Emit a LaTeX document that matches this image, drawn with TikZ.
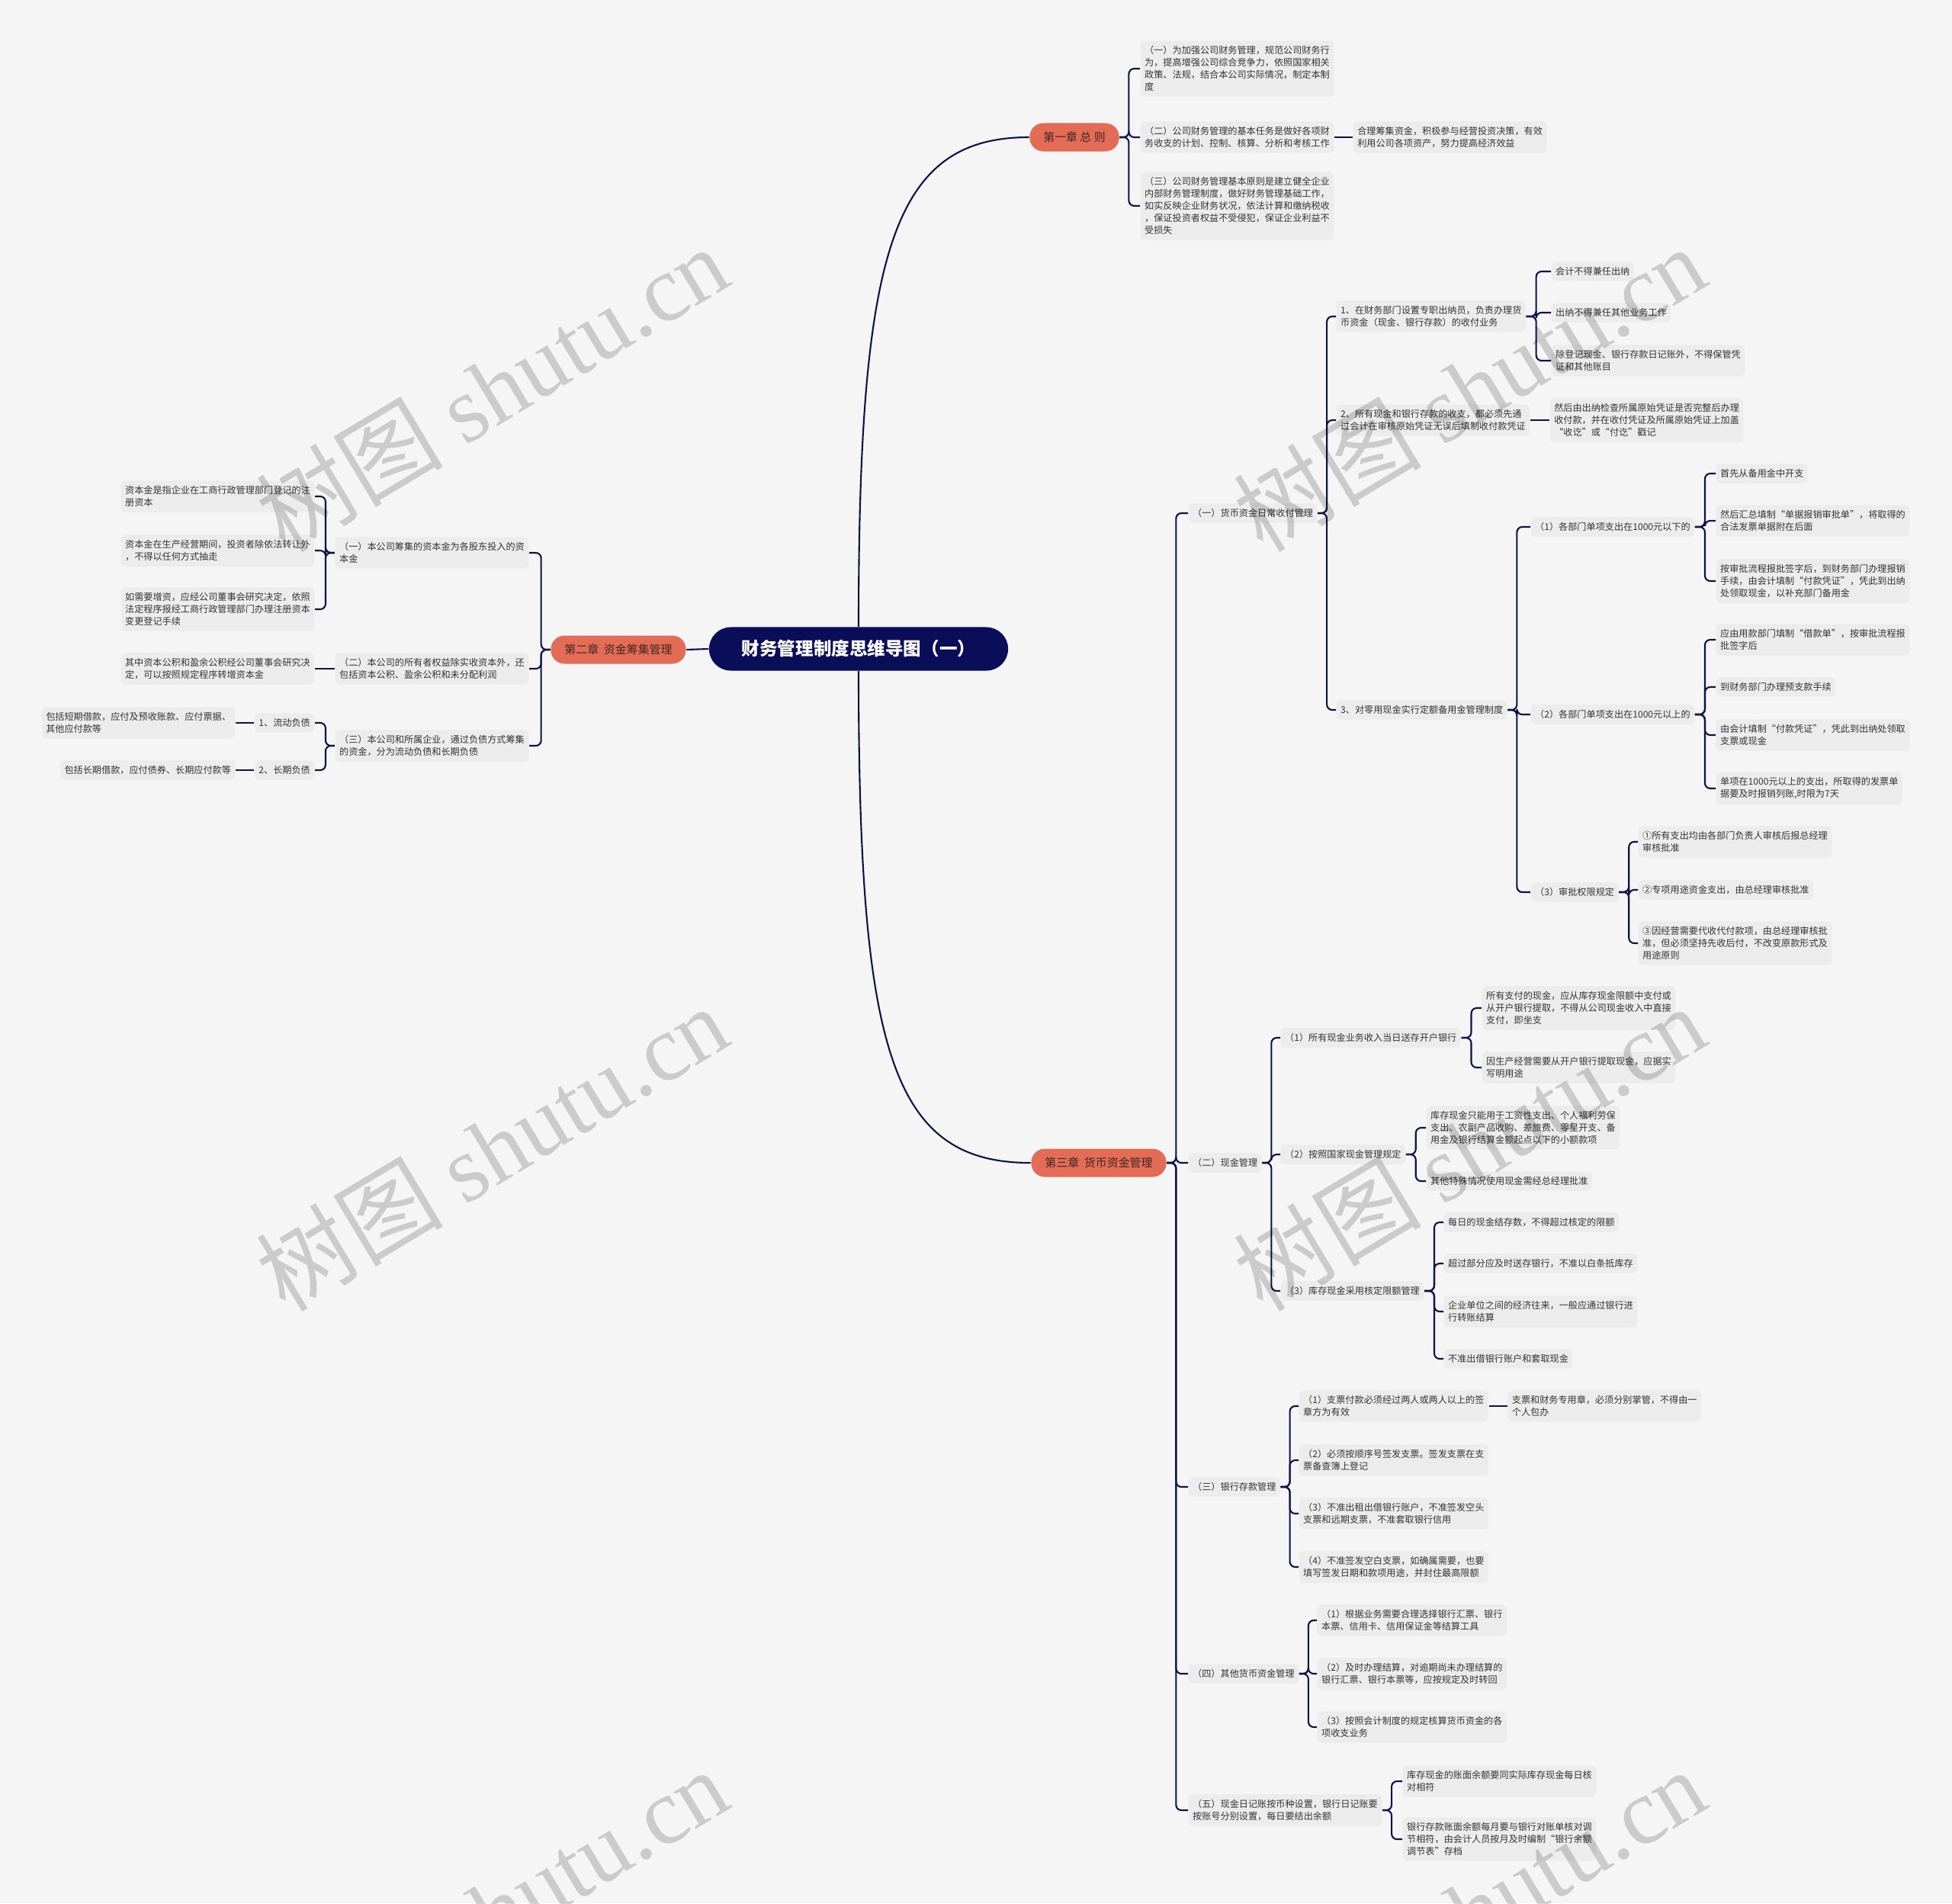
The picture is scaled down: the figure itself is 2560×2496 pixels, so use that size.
\documentclass[tikz,border=0pt]{standalone}
\usepackage{fontspec}
\setmainfont{Noto Sans CJK SC}
\newfontfamily\wmfont{Liberation Serif}
\usepackage{xcolor}
\definecolor{PaperGray}{RGB}{245,245,245}
\definecolor{LeafGray}{RGB}{236,236,236}
\definecolor{InkNavy}{RGB}{14,18,70}
\definecolor{RootNavy}{RGB}{10,13,87}
\definecolor{ChapCoral}{RGB}{226,108,86}
\definecolor{ChapText}{RGB}{66,40,34}
\definecolor{LeafText}{RGB}{51,51,51}
\usepackage{tikz}
\usetikzlibrary{positioning}

\begin{document}
\begin{tikzpicture}[
    x=0.01cm, y=-0.01cm,
    leaf/.style={fill=LeafGray, rounded corners=0.06cm, inner xsep=0.055cm, inner ysep=0.07cm, align=left, text=LeafText, font=\fontsize{3.45pt}{4.55pt}\selectfont},
    rleaf/.style={leaf, anchor=west},
    lleaf/.style={leaf, anchor=east},
    chap/.style={fill=ChapCoral, rounded corners=0.18cm, minimum height=0.37cm, inner xsep=0.18cm, inner ysep=0pt, text=ChapText, font=\fontsize{4.25pt}{5pt}\selectfont},
    root/.style={fill=RootNavy, rounded corners=0.285cm, minimum width=3.92cm, minimum height=0.57cm, text=white, font=\fontsize{6.7pt}{8pt}\selectfont\bfseries},
    link/.style={draw=InkNavy, line width=0.6pt, rounded corners=0.07cm},
    wm/.style={text=black, opacity=0.17, rotate=31, font=\fontsize{35pt}{40pt}\selectfont}
]
    \useasboundingbox (0,0) rectangle (2560,2496);
    \fill[PaperGray] (0,0) rectangle (2560,2496);

    \node[root] (root) at (1126,851) {财务管理制度思维导图（一）};
    \node[chap] (ch1) at (1409,180) {第一章 总 则};
    \node[chap] (ch2) at (811,852) {第二章~~资金筹集管理};
    \node[chap] (ch3) at (1441,1525) {第三章~~货币资金管理};

    \node[rleaf] (c1a) at (1495,90) {（一）为加强公司财务管理，规范公司财务行\\为，提高增强公司综合竞争力，依照国家相关\\政策、法规，结合本公司实际情况，制定本制\\度};
    \node[rleaf] (c1b) at (1495,180) {（二）公司财务管理的基本任务是做好各项财\\务收支的计划、控制、核算、分析和考核工作};
    \node[rleaf, right=0.24cm of c1b] (c1bx) {合理筹集资金，积极参与经营投资决策，有效\\利用公司各项资产，努力提高经济效益};
    \node[rleaf] (c1c) at (1495,270) {（三）公司财务管理基本原则是建立健全企业\\内部财务管理制度，做好财务管理基础工作，\\如实反映企业财务状况，依法计算和缴纳税收\\，保证投资者权益不受侵犯，保证企业利益不\\受损失};

    \node[lleaf] (ch2a) at (694,725) {（一）本公司筹集的资本金为各股东投入的资\\本金};
    \node[lleaf] (ch2b) at (694,877) {（二）本公司的所有者权益除实收资本外，还\\包括资本公积、盈余公积和未分配利润};
    \node[lleaf, left=0.26cm of ch2b] (ch2bx) {其中资本公积和盈余公积经公司董事会研究决\\定，可以按照规定程序转增资本金};
    \node[lleaf] (ch2c) at (694,978) {（三）本公司和所属企业，通过负债方式筹集\\的资金，分为流动负债和长期负债};
    \node[lleaf] (g1) at (413,651) {资本金是指企业在工商行政管理部门登记的注\\册资本};
    \node[lleaf] (g2) at (413,722) {资本金在生产经营期间，投资者除依法转让外\\，不得以任何方式抽走};
    \node[lleaf] (g3) at (413,799) {如需要增资，应经公司董事会研究决定，依照\\法定程序报经工商行政管理部门办理注册资本\\变更登记手续};
    \node[lleaf] (d1) at (413,948) {1、流动负债};
    \node[lleaf] (d2) at (413,1010) {2、长期负债};
    \node[lleaf, left=0.24cm of d1] (d1x) {包括短期借款，应付及预收账款、应付票据、\\其他应付款等};
    \node[lleaf, left=0.24cm of d2] (d2x) {包括长期借款，应付债券、长期应付款等};

    \node[rleaf] (s1) at (1558,673) {（一）货币资金日常收付管理};
    \node[rleaf] (s1a) at (1752,415) {1、在财务部门设置专职出纳员，负责办理货\\币资金（现金、银行存款）的收付业务};
    \node[rleaf] (s1a1) at (2034,356) {会计不得兼任出纳};
    \node[rleaf] (s1a2) at (2034,410) {出纳不得兼任其他业务工作};
    \node[rleaf] (s1a3) at (2034,473) {除登记现金、银行存款日记账外，不得保管凭\\证和其他账目};
    \node[rleaf] (s1b) at (1752,551) {2、所有现金和银行存款的收支，都必须先通\\过会计在审核原始凭证无误后填制收付款凭证};
    \node[rleaf, right=0.25cm of s1b] (s1bx) {然后由出纳检查所属原始凭证是否完整后办理\\收付款，并在收付凭证及所属原始凭证上加盖\\“收讫”或“付讫”戳记};
    \node[rleaf] (s1c) at (1752,931) {3、对零用现金实行定额备用金管理制度};
    \node[rleaf] (p1) at (2007,691) {（1）各部门单项支出在1000元以下的};
    \node[rleaf] (p1a) at (2250,621) {首先从备用金中开支};
    \node[rleaf] (p1b) at (2250,683) {然后汇总填制“单据报销审批单”，将取得的\\合法发票单据附在后面};
    \node[rleaf] (p1c) at (2250,762) {按审批流程报批签字后，到财务部门办理报销\\手续，由会计填制“付款凭证”，凭此到出纳\\处领取现金，以补充部门备用金};
    \node[rleaf] (p2) at (2007,937) {（2）各部门单项支出在1000元以上的};
    \node[rleaf] (p2a) at (2250,839) {应由用款部门填制“借款单”，按审批流程报\\批签字后};
    \node[rleaf] (p2b) at (2250,901) {到财务部门办理预支款手续};
    \node[rleaf] (p2c) at (2250,964) {由会计填制“付款凭证”，凭此到出纳处领取\\支票或现金};
    \node[rleaf] (p2d) at (2250,1034) {单项在1000元以上的支出，所取得的发票单\\据要及时报销列账,时限为7天};
    \node[rleaf] (p3) at (2007,1170) {（3）审批权限规定};
    \node[rleaf] (p3a) at (2148,1104) {①所有支出均由各部门负责人审核后报总经理\\审核批准};
    \node[rleaf] (p3b) at (2148,1167) {②专项用途资金支出，由总经理审核批准};
    \node[rleaf] (p3c) at (2148,1237) {③因经营需要代收代付款项，由总经理审核批\\准，但必须坚持先收后付，不改变原款形式及\\用途原则};

    \node[rleaf] (s2) at (1558,1525) {（二）现金管理};
    \node[rleaf] (s2a) at (1679,1361) {（1）所有现金业务收入当日送存开户银行};
    \node[rleaf] (s2a1) at (1943,1322) {所有支付的现金，应从库存现金限额中支付或\\从开户银行提取，不得从公司现金收入中直接\\支付，即坐支};
    \node[rleaf] (s2a2) at (1943,1400) {因生产经营需要从开户银行提取现金，应据实\\写明用途};
    \node[rleaf] (s2b) at (1679,1514) {（2）按照国家现金管理规定};
    \node[rleaf] (s2b1) at (1870,1479) {库存现金只能用于工资性支出、个人福利劳保\\支出、农副产品收购、差旅费、零星开支、备\\用金及银行结算金额起点以下的小额款项};
    \node[rleaf] (s2b2) at (1870,1549) {其他特殊情况使用现金需经总经理批准};
    \node[rleaf] (s2c) at (1679,1693) {（3）库存现金采用核定限额管理};
    \node[rleaf] (s2c1) at (1893,1603) {每日的现金结存数，不得超过核定的限额};
    \node[rleaf] (s2c2) at (1893,1657) {超过部分应及时送存银行，不准以白条抵库存};
    \node[rleaf] (s2c3) at (1893,1720) {企业单位之间的经济往来，一般应通过银行进\\行转账结算};
    \node[rleaf] (s2c4) at (1893,1782) {不准出借银行账户和套取现金};

    \node[rleaf] (s3) at (1558,1950) {（三）银行存款管理};
    \node[rleaf] (s3a) at (1703,1844) {（1）支票付款必须经过两人或两人以上的签\\章方为有效};
    \node[rleaf, right=0.24cm of s3a] (s3ax) {支票和财务专用章，必须分别掌管，不得由一\\个人包办};
    \node[rleaf] (s3b) at (1703,1915) {（2）必须按顺序号签发支票。签发支票在支\\票备查簿上登记};
    \node[rleaf] (s3c) at (1703,1985) {（3）不准出租出借银行账户，不准签发空头\\支票和远期支票，不准套取银行信用};
    \node[rleaf] (s3d) at (1703,2055) {（4）不准签发空白支票，如确属需要，也要\\填写签发日期和款项用途，并封住最高限额};

    \node[rleaf] (s4) at (1558,2195) {（四）其他货币资金管理};
    \node[rleaf] (s4a) at (1727,2125) {（1）根据业务需要合理选择银行汇票、银行\\本票、信用卡、信用保证金等结算工具};
    \node[rleaf] (s4b) at (1727,2195) {（2）及时办理结算，对逾期尚未办理结算的\\银行汇票、银行本票等，应按规定及时转回};
    \node[rleaf] (s4c) at (1727,2265) {（3）按照会计制度的规定核算货币资金的各\\项收支业务};

    \node[rleaf] (s5) at (1558,2374) {（五）现金日记账按币种设置，银行日记账要\\按账号分别设置，每日要结出余额};
    \node[rleaf] (s5a) at (1839,2336) {库存现金的账面余额要同实际库存现金每日核\\对相符};
    \node[rleaf] (s5b) at (1839,2412) {银行存款账面余额每月要与银行对账单核对调\\节相符，由会计人员按月及时编制“银行余额\\调节表”存档};

    \draw[link] (root.west) -- (ch2.east);
    \draw[link] (root.north) .. controls (1126,330) and (1170,180) .. (ch1.west);
    \draw[link] (root.south) .. controls (1126,1380) and (1170,1525) .. (ch3.west);

    \draw[link] (ch1.east) -- ++(12,0) |- (c1a.west);
    \draw[link] (ch1.east) -- ++(12,0) |- (c1b.west);
    \draw[link] (ch1.east) -- ++(12,0) |- (c1c.west);
    \draw[link] (c1b) -- (c1bx);

    \draw[link] (ch2.west) -- ++(-12,0) |- (ch2a.east);
    \draw[link] (ch2.west) -- ++(-12,0) |- (ch2b.east);
    \draw[link] (ch2.west) -- ++(-12,0) |- (ch2c.east);
    \draw[link] (ch2a.west) -- ++(-12,0) |- (g1.east);
    \draw[link] (ch2a.west) -- ++(-12,0) |- (g2.east);
    \draw[link] (ch2a.west) -- ++(-12,0) |- (g3.east);
    \draw[link] (ch2b) -- (ch2bx);
    \draw[link] (ch2c.west) -- ++(-12,0) |- (d1.east);
    \draw[link] (ch2c.west) -- ++(-12,0) |- (d2.east);
    \draw[link] (d1) -- (d1x);
    \draw[link] (d2) -- (d2x);

    \draw[link] (ch3.east) -- ++(12,0) |- (s1.west);
    \draw[link] (ch3.east) -- ++(12,0) |- (s2.west);
    \draw[link] (ch3.east) -- ++(12,0) |- (s3.west);
    \draw[link] (ch3.east) -- ++(12,0) |- (s4.west);
    \draw[link] (ch3.east) -- ++(12,0) |- (s5.west);

    \draw[link] (s1.east) -- ++(12,0) |- (s1a.west);
    \draw[link] (s1.east) -- ++(12,0) |- (s1b.west);
    \draw[link] (s1.east) -- ++(12,0) |- (s1c.west);
    \draw[link] (s1a.east) -- ++(13,0) |- (s1a1.west);
    \draw[link] (s1a.east) -- ++(13,0) |- (s1a2.west);
    \draw[link] (s1a.east) -- ++(13,0) |- (s1a3.west);
    \draw[link] (s1b) -- (s1bx);
    \draw[link] (s1c.east) -- ++(12,0) |- (p1.west);
    \draw[link] (s1c.east) -- ++(12,0) |- (p2.west);
    \draw[link] (s1c.east) -- ++(12,0) |- (p3.west);
    \draw[link] (p1.east) -- ++(13,0) |- (p1a.west);
    \draw[link] (p1.east) -- ++(13,0) |- (p1b.west);
    \draw[link] (p1.east) -- ++(13,0) |- (p1c.west);
    \draw[link] (p2.east) -- ++(13,0) |- (p2a.west);
    \draw[link] (p2.east) -- ++(13,0) |- (p2b.west);
    \draw[link] (p2.east) -- ++(13,0) |- (p2c.west);
    \draw[link] (p2.east) -- ++(13,0) |- (p2d.west);
    \draw[link] (p3.east) -- ++(13,0) |- (p3a.west);
    \draw[link] (p3.east) -- ++(13,0) |- (p3b.west);
    \draw[link] (p3.east) -- ++(13,0) |- (p3c.west);

    \draw[link] (s2.east) -- ++(12,0) |- (s2a.west);
    \draw[link] (s2.east) -- ++(12,0) |- (s2b.west);
    \draw[link] (s2.east) -- ++(12,0) |- (s2c.west);
    \draw[link] (s2a.east) -- ++(13,0) |- (s2a1.west);
    \draw[link] (s2a.east) -- ++(13,0) |- (s2a2.west);
    \draw[link] (s2b.east) -- ++(13,0) |- (s2b1.west);
    \draw[link] (s2b.east) -- ++(13,0) |- (s2b2.west);
    \draw[link] (s2c.east) -- ++(13,0) |- (s2c1.west);
    \draw[link] (s2c.east) -- ++(13,0) |- (s2c2.west);
    \draw[link] (s2c.east) -- ++(13,0) |- (s2c3.west);
    \draw[link] (s2c.east) -- ++(13,0) |- (s2c4.west);

    \draw[link] (s3.east) -- ++(12,0) |- (s3a.west);
    \draw[link] (s3.east) -- ++(12,0) |- (s3b.west);
    \draw[link] (s3.east) -- ++(12,0) |- (s3c.west);
    \draw[link] (s3.east) -- ++(12,0) |- (s3d.west);
    \draw[link] (s3a) -- (s3ax);

    \draw[link] (s4.east) -- ++(12,0) |- (s4a.west);
    \draw[link] (s4.east) -- ++(12,0) |- (s4b.west);
    \draw[link] (s4.east) -- ++(12,0) |- (s4c.west);

    \draw[link] (s5.east) -- ++(12,0) |- (s5a.west);
    \draw[link] (s5.east) -- ++(12,0) |- (s5b.west);

    \begin{scope}
        \clip (0,0) rectangle (2560,2496);
        \node[wm] (wm1) at (645,509) {树图 {\wmfont shutu.cn}};
        \node[wm] (wm2) at (1927,509) {树图 {\wmfont shutu.cn}};
        \node[wm] (wm3) at (645,1505) {树图 {\wmfont shutu.cn}};
        \node[wm] (wm4) at (1927,1505) {树图 {\wmfont shutu.cn}};
        \node[wm] (wm5) at (645,2506) {树图 {\wmfont shutu.cn}};
        \node[wm] (wm6) at (1927,2506) {树图 {\wmfont shutu.cn}};
    \end{scope}
\end{tikzpicture}
\end{document}
